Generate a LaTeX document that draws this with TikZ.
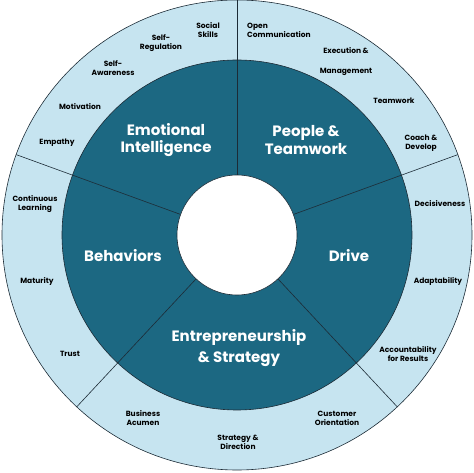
\documentclass[tikz,border=0pt]{standalone}
\usepackage{fontspec}
\setmainfont{Poppins}
\usetikzlibrary{positioning}
\definecolor{ringdark}{HTML}{1C6882}
\definecolor{ringlight}{HTML}{C6E4F0}
\definecolor{edgeline}{HTML}{1C2B36}

\begin{document}
\begin{tikzpicture}[x=1pt,y=1pt,
    core/.style={text=white,font=\fontsize{15}{17.5}\selectfont\bfseries,align=center,inner sep=0pt},
    trait/.style={text=black,font=\fontsize{7.5}{8.8}\selectfont\bfseries,align=center,inner sep=0pt},
    rim/.style={draw=edgeline,line width=0.6pt}]
    \useasboundingbox (-237,-238) rectangle (237,235);

    % outer and inner rings
    \fill[ringlight,rim] (0,0) circle (235);
    \fill[ringdark,rim] (0,0) circle (175);
    \foreach \a in {90,20,-47,-133,160}
        \draw[rim] (\a:60) -- (\a:235);
    \fill[white,rim] (0,0) circle (60);

    % core areas
    \path
        (-71,95)   node[core] (emo) {Emotional\\Intelligence}
        (69,95)    node[core] (ppl) {People \&\\Teamwork}
        (-114,-21) node[core] (beh) {Behaviors}
        (112,-21)  node[core] (drv) {Drive}
        (2,-113)   node[core,font=\fontsize{15}{21}\selectfont\bfseries] (ent) {Entrepreneurship\\\& Strategy};

    % traits, emotional intelligence
    \path
        (-29,205)  node[trait] (soc) {Social\\Skills}
        (-76,192)  node[trait] (sreg) {Self-\\Regulation}
        (-124,167) node[trait] (sawa) {Self-\\Awareness}
        (-157,128) node[trait] (mot) {Motivation}
        (-180,92)  node[trait] (emp) {Empathy};

    % traits, people & teamwork
    \path
        (10,205)   node[trait,anchor=west,align=left] (open) {Open\\Communication}
        (109,173)  node[trait,font=\fontsize{7.5}{20}\selectfont\bfseries] (exe) {Execution \&\\Management}
        (157,134)  node[trait] (team) {Teamwork}
        (184,91.5) node[trait] (coach) {Coach \&\\Develop};

    % traits, drive
    \path
        (203,31)   node[trait] (dec) {Decisiveness}
        (201,-46)  node[trait] (adapt) {Adaptability}
        (171,-119) node[trait] (acc) {Accountability\\for Results};

    % traits, entrepreneurship & strategy
    \path
        (100,-183) node[trait] (cust) {Customer\\Orientation}
        (1,-207)   node[trait] (strat) {Strategy \&\\Direction}
        (-94,-183) node[trait] (bus) {Business\\Acumen};

    % traits, behaviors
    \path
        (-167,-119) node[trait] (trust) {Trust}
        (-200,-46)  node[trait] (mat) {Maturity}
        (-202,31)   node[trait] (cont) {Continuous\\Learning};
\end{tikzpicture}
\end{document}
